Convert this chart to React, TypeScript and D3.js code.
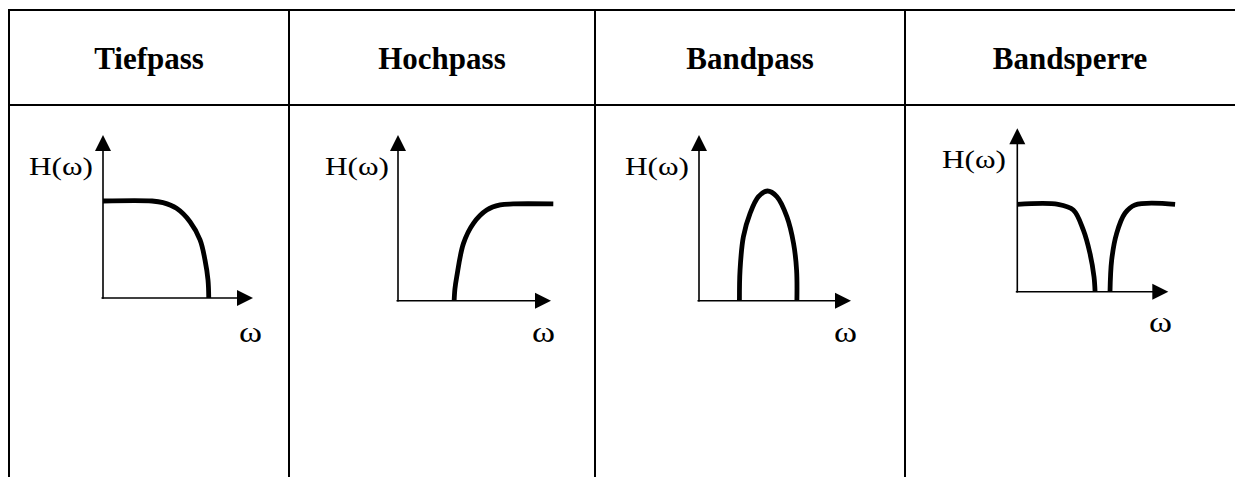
import React from "react";
import * as d3 from "d3";

// ---------- data ----------
const categories = ["Tiefpass", "Hochpass", "Bandpass", "Bandsperre"];
const yLabel = "H(ω)";
const xLabel = "ω";

// normalized response curves (ω in axis-length units, H in axis-height units)
const tiefOmega = [0, 0.327, 0.4, 0.49, 0.58, 0.647, 0.68, 0.7, 0.705];
const tiefH = [0.595, 0.595, 0.585, 0.55, 0.468, 0.356, 0.233, 0.11, 0];

const hochOmega = [0.367, 0.372, 0.384, 0.428, 0.493, 0.58, 0.668, 0.753, 1.015];
const hochH = [0, 0.07, 0.145, 0.346, 0.467, 0.547, 0.578, 0.584, 0.584];

const bandOmega = [0.266, 0.27, 0.292, 0.336, 0.391, 0.45, 0.512, 0.578, 0.622, 0.642, 0.644];
const bandH = [0, 0.185, 0.386, 0.527, 0.628, 0.662, 0.628, 0.507, 0.346, 0.185, 0];

const sperreLeftOmega = [0, 0.27, 0.371, 0.437, 0.481, 0.508, 0.515];
const sperreLeftH = [0.535, 0.535, 0.5, 0.378, 0.235, 0.092, 0];
const sperreRightOmega = [0.614, 0.625, 0.658, 0.713, 0.779, 1.045];
const sperreRightH = [0, 0.194, 0.357, 0.48, 0.531, 0.535];

const curves: { omega: number[]; h: number[] }[][] = [
  [{ omega: tiefOmega, h: tiefH }],
  [{ omega: hochOmega, h: hochH }],
  [{ omega: bandOmega, h: bandH }],
  [
    { omega: sperreLeftOmega, h: sperreLeftH },
    { omega: sperreRightOmega, h: sperreRightH },
  ],
];

// ---------- layout ----------
const W = 1235;
const H = 477;
const colEdges = [9, 289, 595, 905, 1245];
const tableTop = 10;
const headerBottom = 105;

// per panel: origin x/y, x axis tip, y axis tip, label positions
const panels = [
  { ox: 103, oy: 298, xt: 253, yt: 135, hx: 29, hy: 175, wx: 240, wy: 342 },
  { ox: 398, oy: 300.7, xt: 551, yt: 135, hx: 325, hy: 175, wx: 533, wy: 342 },
  { ox: 699, oy: 300.7, xt: 851, yt: 135, hx: 625, hy: 175, wx: 835, wy: 342 },
  { ox: 1017.3, oy: 291.7, xt: 1168.3, yt: 128.3, hx: 942, hy: 168, wx: 1150, wy: 332 },
];

const font = "'Liberation Serif', 'Times New Roman', serif";

export default function App() {
  return (
    <svg
      width={W}
      height={H}
      viewBox={`0 0 ${W} ${H}`}
      style={{ position: "absolute", left: 0, top: 0, background: "#fff" }}
    >
      <rect x={0} y={0} width={W} height={H} fill="#fff" />
      {/* table grid */}
      <line x1={colEdges[0] - 1} x2={W + 5} y1={tableTop} y2={tableTop} stroke="#000" strokeWidth={2} />
      <line x1={colEdges[0] - 1} x2={W + 5} y1={headerBottom} y2={headerBottom} stroke="#000" strokeWidth={2} />
      {colEdges.map((x, i) => (
        <line key={i} x1={x} x2={x} y1={tableTop - 1} y2={H} stroke="#000" strokeWidth={2} />
      ))}
      {categories.map((c, i) => (
        <text
          key={c}
          x={(colEdges[i] + Math.min(colEdges[i + 1], 1235)) / 2}
          y={69}
          textAnchor="middle"
          fontFamily={font}
          fontWeight="bold"
          fontSize={31}
          fill="#000"
        >
          {c}
        </text>
      ))}
      {panels.map((p, i) => {
        const xs = d3.scaleLinear().domain([0, 1]).range([p.ox, p.xt]);
        const ys = d3.scaleLinear().domain([0, 1]).range([p.oy, p.yt]);
        const line = d3
          .line<[number, number]>()
          .x((d) => xs(d[0]))
          .y((d) => ys(d[1]))
          .curve(d3.curveCatmullRom.alpha(0.5));
        const ah = 16;
        const aw = 8;
        return (
          <g key={i}>
            {/* axes */}
            <line x1={p.ox - 1.5} x2={p.xt - ah + 1} y1={p.oy} y2={p.oy} stroke="#000" strokeWidth={1.6} />
            <line x1={p.ox} x2={p.ox} y1={p.oy + 0.8} y2={p.yt + ah - 1} stroke="#000" strokeWidth={1.6} />
            <path d={`M${p.xt},${p.oy} L${p.xt - ah},${p.oy - aw} L${p.xt - ah},${p.oy + aw} Z`} fill="#000" />
            <path d={`M${p.ox},${p.yt} L${p.ox - aw},${p.yt + ah} L${p.ox + aw},${p.yt + ah} Z`} fill="#000" />
            {curves[i].map((c, j) => (
              <path
                key={j}
                d={line(c.omega.map((o, k) => [o, c.h[k]] as [number, number])) || ""}
                fill="none"
                stroke="#000"
                strokeWidth={4.8}
              />
            ))}
            <text
              x={p.hx}
              y={p.hy}
              fontFamily={font}
              fontSize={25}
              textLength={64}
              lengthAdjust="spacingAndGlyphs"
              fill="#000"
            >
              {yLabel}
            </text>
            <text
              x={p.wx - 1}
              y={p.wy}
              fontFamily={font}
              fontSize={30}
              textLength={23}
              lengthAdjust="spacingAndGlyphs"
              fill="#000"
            >
              {xLabel}
            </text>
          </g>
        );
      })}
    </svg>
  );
}
